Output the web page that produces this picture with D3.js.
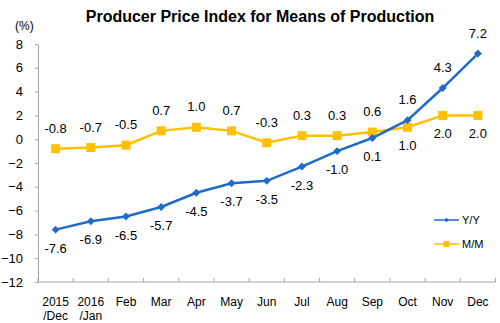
<!DOCTYPE html>
<html><head><meta charset="utf-8">
<script src="https://cdn.jsdelivr.net/npm/d3@7"></script>
<style>body{margin:0;background:#fff}svg{display:block;font-family:"Liberation Sans",Arial,sans-serif}</style>
</head><body>
<script>
const categories = [["2015","/Dec"],["2016","/Jan"],["Feb"],["Mar"],["Apr"],["May"],["Jun"],["Jul"],["Aug"],["Sep"],["Oct"],["Nov"],["Dec"]];
const yoy = [-7.6,-6.9,-6.5,-5.7,-4.5,-3.7,-3.5,-2.3,-1.0,0.1,1.6,4.3,7.2];
const mom = [-0.8,-0.7,-0.5,0.7,1.0,0.7,-0.3,0.3,0.3,0.6,1.0,2.0,2.0];
const yoyLabelPos = ["b","b","b","b","b","b","b","b","b","b","a","a","a"];
const momLabelPos = ["a","a","a","a","a","a","a","a","a","a","b","b","b"];
const yTicks = [8,6,4,2,0,-2,-4,-6,-8,-10,-12];
const seriesNames = ["Y/Y","M/M"];

const W=500,H=323;
const svg=d3.select("body").append("svg").attr("width",W).attr("height",H);
const x=d3.scaleBand().domain(d3.range(categories.length)).range([38,495.5]);
const y=d3.scaleLinear().domain([-12,8]).range([282,44]);
const blue="#1F6BC8", yellow="#FFC000", axisCol="#A6A6A6";

svg.append("text").attr("x",260).attr("y",22).attr("text-anchor","middle")
  .attr("font-weight","bold").attr("font-size",16).text("Producer Price Index for Means of Production");
svg.append("text").attr("x",15).attr("y",30).attr("font-size",12).text("(%)");

// y axis
const ya=svg.append("g").attr("transform","translate(38,0)").call(d3.axisLeft(y).tickValues(yTicks).tickSize(3).tickSizeOuter(0).tickFormat(d3.format("d")));
ya.select(".domain").attr("stroke",axisCol);
ya.selectAll(".tick line").attr("stroke",axisCol);
ya.selectAll(".tick text").attr("font-size",13).attr("font-family","Liberation Sans, Arial").attr("fill","#000").attr("x",-15);

// x axis
const xa=svg.append("g").attr("transform","translate(0,282)");
xa.append("line").attr("x1",38).attr("x2",495.5).attr("stroke",axisCol);
d3.range(categories.length+1).forEach(i=>{
  const xx = i<categories.length? x(i) : x.range()[1];
  xa.append("line").attr("x1",xx).attr("x2",xx).attr("y1",0).attr("y2",-4).attr("stroke",axisCol);
});
categories.forEach((c,i)=>{
  const t=xa.append("text").attr("x",x(i)+x.bandwidth()/2).attr("y",24).attr("text-anchor","middle").attr("font-size",12);
  c.forEach((s,j)=>t.append("tspan").attr("x",x(i)+x.bandwidth()/2).attr("dy",j?14:0).text(s));
});

const cx=i=>x(i)+x.bandwidth()/2;
const line=d3.line().x((d,i)=>cx(i)).y(d=>y(d));

function drawSeries(data,color,marker,pos){
  svg.append("path").datum(data).attr("d",line).attr("fill","none").attr("stroke",color).attr("stroke-width",2.5);
  data.forEach((d,i)=>{
    if(marker==="diamond"){
      svg.append("path").attr("d",d3.symbol(d3.symbolDiamond2,40)()).attr("transform",`translate(${cx(i)},${y(d)})`).attr("fill",color);
    } else {
      svg.append("rect").attr("x",cx(i)-4.5).attr("y",y(d)-4.5).attr("width",9).attr("height",9).attr("fill",color);
    }
    svg.append("text").attr("x",cx(i)).attr("y",y(d)+(pos[i]==="a"?-16:23)).attr("text-anchor","middle").attr("font-size",13).text(d.toFixed(1));
  });
}
drawSeries(mom,yellow,"square",momLabelPos);
drawSeries(yoy,blue,"diamond",yoyLabelPos);

// legend
const lg=[[blue,"diamond",220],[yellow,"square",244]];
lg.forEach(([c,m,ly],k)=>{
  svg.append("line").attr("x1",434).attr("x2",459).attr("y1",ly).attr("y2",ly).attr("stroke",c).attr("stroke-width",1.5);
  if(m==="diamond") svg.append("path").attr("d",d3.symbol(d3.symbolDiamond2,14)()).attr("transform",`translate(446.5,${ly})`).attr("fill",c);
  else svg.append("rect").attr("x",443.5).attr("y",ly-3).attr("width",6).attr("height",6).attr("fill",c);
  svg.append("text").attr("x",462).attr("y",ly+4).attr("font-size",11).text(seriesNames[k]);
});
</script>
</body></html>
